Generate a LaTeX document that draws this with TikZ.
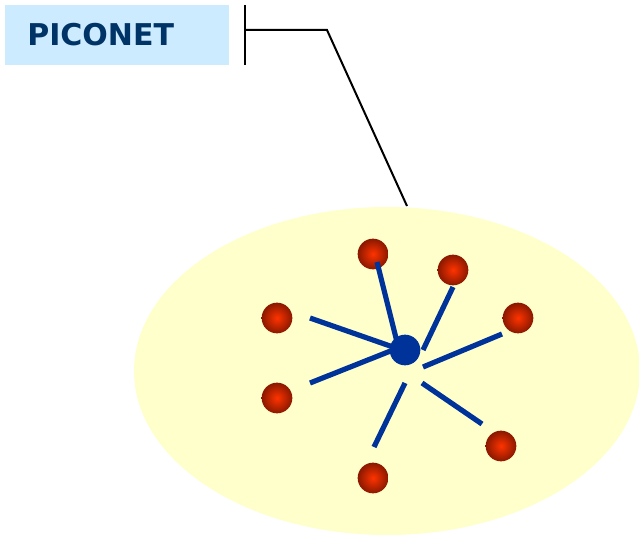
\documentclass[tikz,border=0pt]{standalone}
\usepackage{fontspec}
\newfontfamily\labelfont{DejaVu Sans}
\usepackage{xcolor}
\usepackage{tikz}
\usetikzlibrary{positioning}

\definecolor{labelblue}{HTML}{CCEBFF}
\definecolor{labelnavy}{HTML}{003366}
\definecolor{areayellow}{HTML}{FFFFCC}
\definecolor{linkblue}{HTML}{003399}
\definecolor{slavered}{HTML}{FF3300}
\definecolor{slavedark}{HTML}{8A1800}

\begin{document}
\begin{tikzpicture}[x=0.75pt, y=-0.75pt,
    slave/.style={circle, minimum size=23pt, inner sep=0pt,
        shading=radial, inner color=slavered, outer color=slavedark},
    master/.style={circle, fill=linkblue, minimum size=23pt, inner sep=0pt},
    link/.style={draw=linkblue, line width=3.9pt},
    labelbox/.style={fill=labelblue, text=labelnavy, font=\labelfont\bfseries\fontsize{22.5}{26}\selectfont,
        minimum height=45pt, text width=135pt, inner xsep=16.5pt, align=left, anchor=west}]
    \useasboundingbox (0,0) rectangle (639,535);

    % piconet area
    \fill[areayellow] (387,371) ellipse [x radius=253, y radius=164];

    % label with its bracket
    \node[labelbox] (title) at (5,35) {PICONET};
    \coordinate (brtop) at (245,5);
    \coordinate (brbot) at (245,65);
    \coordinate (brmid) at (245,30);
    \coordinate (bend) at (327,30);
    \coordinate (areatop) at (407,206);
    \draw[line width=1.5pt] (brtop) -- (brbot);
    \draw[line width=1.5pt] (brmid) -- (bend) -- (areatop);

    % master and slaves
    \node[master] (m) at (405,350) {};
    \foreach \n/\x/\y in {1/373/254, 2/453/270, 3/518/318, 4/277/318,
                         5/277/398, 6/373/478, 7/501/446}
        \node[slave] (s\n) at (\x,\y) {};

    % links
    \foreach \n/\a/\b in {1/{377,262}/{397,342}, 2/{453,287}/{423,350},
                          3/{502,334}/{423,367}, 4/{310,318}/{393,347},
                          5/{310,383}/{393,350}, 6/{405,383}/{374,447},
                          7/{422,383}/{482,424}} {
        \coordinate (la\n) at (\a);
        \coordinate (lb\n) at (\b);
        \draw[link] (la\n) -- (lb\n);
    }
\end{tikzpicture}
\end{document}
